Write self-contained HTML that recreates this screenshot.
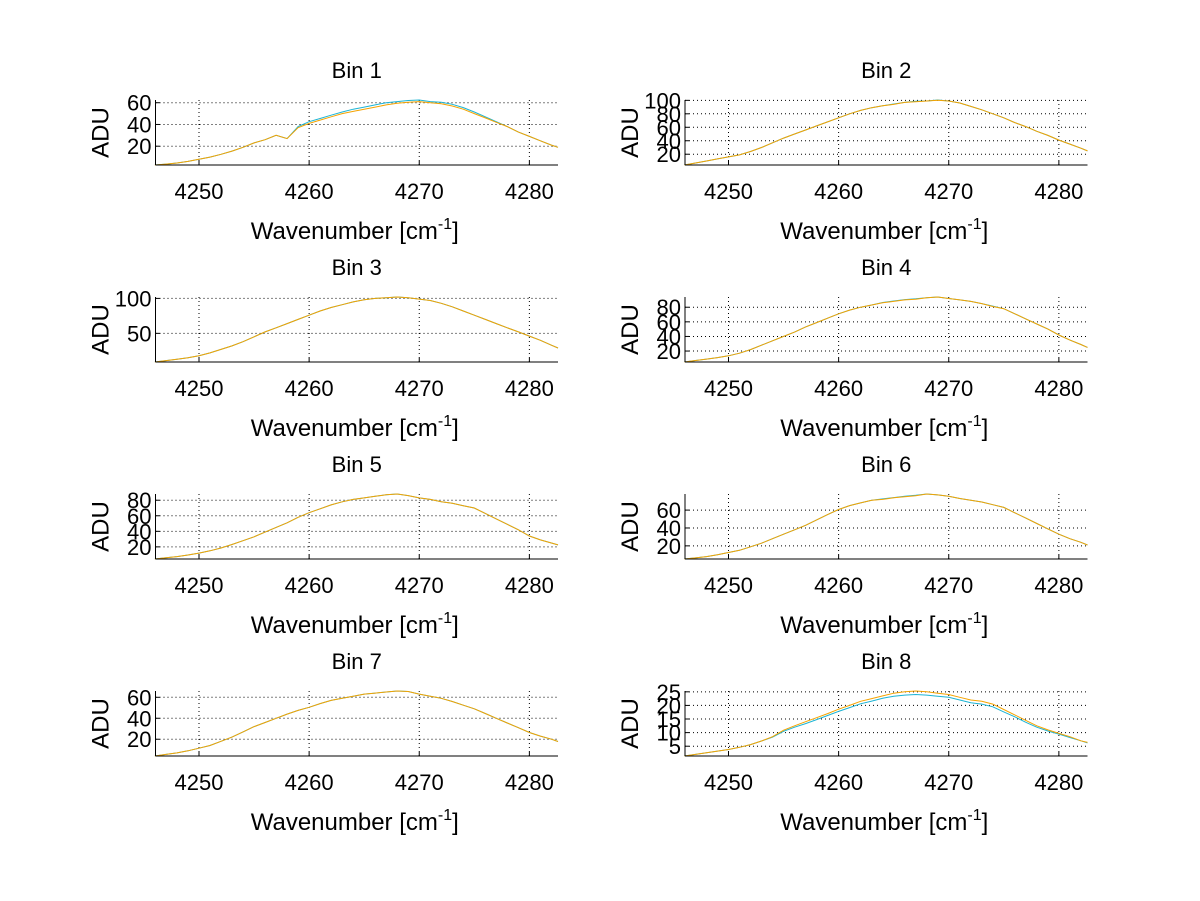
<!DOCTYPE html>
<html><head><meta charset="utf-8"><style>
body{margin:0;background:#fff}
svg{display:block;font-family:"Liberation Sans",sans-serif}
</style></head><body>
<svg id="fig" width="1200" height="901" xmlns="http://www.w3.org/2000/svg"></svg>
<script>
const wavenumbers=[4246,4247,4248,4249,4250,4251,4252,4253,4254,4255,4256,4257,4258,4259,4260,4261,4262,4263,4264,4265,4266,4267,4268,4269,4270,4271,4272,4273,4274,4275,4276,4277,4278,4279,4280,4281,4282,4282.6];
const xTicks=[4250,4260,4270,4280];
const binTitles=["Bin 1","Bin 2","Bin 3","Bin 4","Bin 5","Bin 6","Bin 7","Bin 8"];
const bin1Orange=[2.7,3.5,4.5,6,8,10,12.5,15.5,19,23,26,30,27,37,41,44,47,50,52,54,56,58,59.5,60.5,61,60,59,57,54,50,46,42,38,33,29,25,21,19];
const bin1Cyan=[2.7,3.5,4.5,6,8,10,12.5,15.5,19,23,26,30,27,38,42.5,45.5,48.5,51.5,54,56,58,60,61,62,62.5,61,60.5,58.5,55.5,51.5,47,42.5,38,33,29,25,21,19];
const bin2Orange=[4,7,10,13,16,19,24,30,37,44,50,56,62,68,74,80,85,89,92,94,97,98,99,100,99,96,91,86,80,74,67,61,54,48,41,35,29,25];
const bin2Cyan=[4,7,10,13,16,19,24,30,37,44,50,56,62,68,74,80,85,89,92,94.5,97,98.5,99,100.5,99,96,91,86,80,74,67,61,54,48,41,35,29,25];
const bin3Orange=[9,11,13,15,18,22,27,32,38,45,52,58,64,70,76,82,87,91,95,98,100,101,102,101,99,97,93,88,82,76,70,64,58,52,46,40,33,29];
const bin3Cyan=[9,11,13,15,18,22,27,32,38,45,52,58,64,70,76,82,87,91,95,98,100,101,102,101,99,97,93,88,82,76,70,64,58,52,46,40,33,29];
const bin4Orange=[5,7,9,11,13.5,17,22,28,34,40,46,53,59,65,71,76,80,83,86,88,90,91,93,94,92,90,88,85,81,78,71,64,57,50,42,35,29,25];
const bin4Cyan=[5,7,9,11,13.5,17,22,28,34,40,46,53,59,65,71,76,80,83,86.5,88.5,90.5,91.5,93,94,92,90,88,85,81.5,78,71,64,57,50,42,35,29,25];
const bin5Orange=[4.4,6,7.5,9.5,12,15,18.5,23,28,33,39,45,51,58,64,69,74,78,81,83,85,87,88,86,83,81,78,76,73,70,63,56,49,42,34,29,25,22.5];
const bin5Cyan=[4.4,6,7.5,9.5,12,15,18.5,23,28,33,39,45,51,58,64,69,74,78,81,83,85,87,88,86,83,81,78,76,73,70,63,56,49,42,34,29,25,22.5];
const bin6Orange=[5.3,6.5,8,10,12.6,15,19,23,28,33,38,43,49,55,60.7,65,68,71,72,73.7,75,76,78,77,75.5,73,71,69,66,63,57,51,45,39,33,28,24,21];
const bin6Cyan=[5.3,6.5,8,10,12.6,15,19,23,28,33,38,43,49,55,60.7,65,68,71,72.5,74,75.5,76.5,78,77,75.5,73,71,69,66,63,57,51,45,39,33,28,24,21];
const bin7Orange=[4,5.5,7,9,11.4,14,18,22,27,32,36,40,44,47.5,50.5,54,57,59,61,63,64,65,66,65.5,63,61,59,56,52.5,49,44.5,40,35.5,31,26.4,23,20,17.8];
const bin7Cyan=[4,5.5,7,9,11.4,14,18,22,27,32,36,40,44,47.5,50.5,54,57,59,61,63,64,65,66,65.5,63,61,59,56,52.5,49,44.5,40,35.5,31,26.4,23,20,17.8];
const bin8Orange=[1.4,2,2.6,3.2,3.8,4.6,5.6,6.9,8.5,10.9,12.5,14,15.5,17,18.6,20,21.5,22.5,23.5,24.5,25,25.3,25,24.5,24,23,22,21.5,20.5,18.5,16.5,14.5,12.5,11,9.7,8.5,7,6.4];
const bin8Cyan=[1.4,2,2.6,3.2,3.8,4.6,5.6,6.9,8.3,10.5,12,13.3,14.8,16.3,17.8,19.2,20.6,21.6,22.6,23.4,23.8,24,23.8,23.4,23,22,21,20.5,19.5,17.6,15.8,13.8,12,10.6,9.4,8.2,7,6.2];
const orangeSeries=[bin1Orange,bin2Orange,bin3Orange,bin4Orange,bin5Orange,bin6Orange,bin7Orange,bin8Orange];
const cyanSeries=[bin1Cyan,bin2Cyan,bin3Cyan,bin4Cyan,bin5Cyan,bin6Cyan,bin7Cyan,bin8Cyan];
const yTicks=[[20,40,60],[20,40,60,80,100],[50,100],[20,40,60,80],[20,40,60,80],[20,40,60],[20,40,60],[5,10,15,20,25]];

const NS="http://www.w3.org/2000/svg";
const svg=document.getElementById('fig');
function mk(tag,attrs,parent){const e=document.createElementNS(NS,tag);for(const k in attrs)e.setAttribute(k,attrs[k]);parent.appendChild(e);return e;}
const X0=4246.05,X1=4282.6;
for(let b=0;b<8;b++){
  const col=b%2,row=Math.floor(b/2);
  const L=col?685:155.5,W=402.5,T=100+row*197,H=65,B=T+H;
  const g=mk('g',{},svg);
  
  
  const all=orangeSeries[b].concat(cyanSeries[b]);
  const ymin=Math.min(...all),ymax=Math.max(...all);
  const sx=v=>L+(v-X0)/(X1-X0)*W;
  const sy=v=>B-(v-ymin)/(ymax-ymin)*H;
  xTicks.forEach(t=>{
    const l=mk('line',{x1:sx(t),x2:sx(t),y1:T,y2:B,stroke:'#000','stroke-width':1,'stroke-dasharray':'1,3'},g);
    
    
    mk('line',{x1:sx(t),x2:sx(t),y1:B,y2:B-4,stroke:'#000','stroke-width':1},g);
    const tx=mk('text',{x:sx(t),y:B+34,'font-size':22,'text-anchor':'middle',fill:'#000'},g);
    tx.textContent=t;
    
    
  });
  yTicks[b].forEach(t=>{
    const y=sy(t);
    const l=mk('line',{x1:L,x2:L+W,y1:y,y2:y,stroke:'#000','stroke-width':1,'stroke-dasharray':'1,3'},g);
    
    
    mk('line',{x1:L,x2:L+4,y1:y,y2:y,stroke:'#000','stroke-width':1},g);
    const tx=mk('text',{x:L-4,y:y+8,'font-size':22,'text-anchor':'end',fill:'#000'},g);
    tx.textContent=t;
    
    
  });
  const pts=s=>s.map((v,i)=>sx(wavenumbers[i]).toFixed(1)+','+sy(v).toFixed(1)).join(' ');
  const c=mk('polyline',{points:pts(cyanSeries[b]),fill:'none',stroke:'#1cb4d4','stroke-width':1},g);
  
  
  const o=mk('polyline',{points:pts(orangeSeries[b]),fill:'none',stroke:'#f5a300','stroke-width':1},g);
  
  
  mk('line',{x1:L,x2:L,y1:T,y2:B,stroke:'#000','stroke-width':1},g);
  mk('line',{x1:L,x2:L+W,y1:B,y2:B,stroke:'#000','stroke-width':1},g);
  const ti=mk('text',{x:L+W/2,y:T-22,'font-size':22,'text-anchor':'middle',fill:'#000'},g);
  ti.textContent=binTitles[b];
  
  
  const yl=mk('text',{x:0,y:0,'font-size':24,'text-anchor':'middle',fill:'#000',transform:`translate(${L-47},${T+H/2}) rotate(-90)`},g);
  yl.textContent='ADU';
  
  
  const xl=mk('text',{x:L+W/2-2,y:B+74,'font-size':24,'text-anchor':'middle',fill:'#000'},g);
  xl.innerHTML='Wavenumber [cm<tspan dy="-10" font-size="16">-1</tspan><tspan dy="10">]</tspan>';
  
  
}
</script>
</body></html>
